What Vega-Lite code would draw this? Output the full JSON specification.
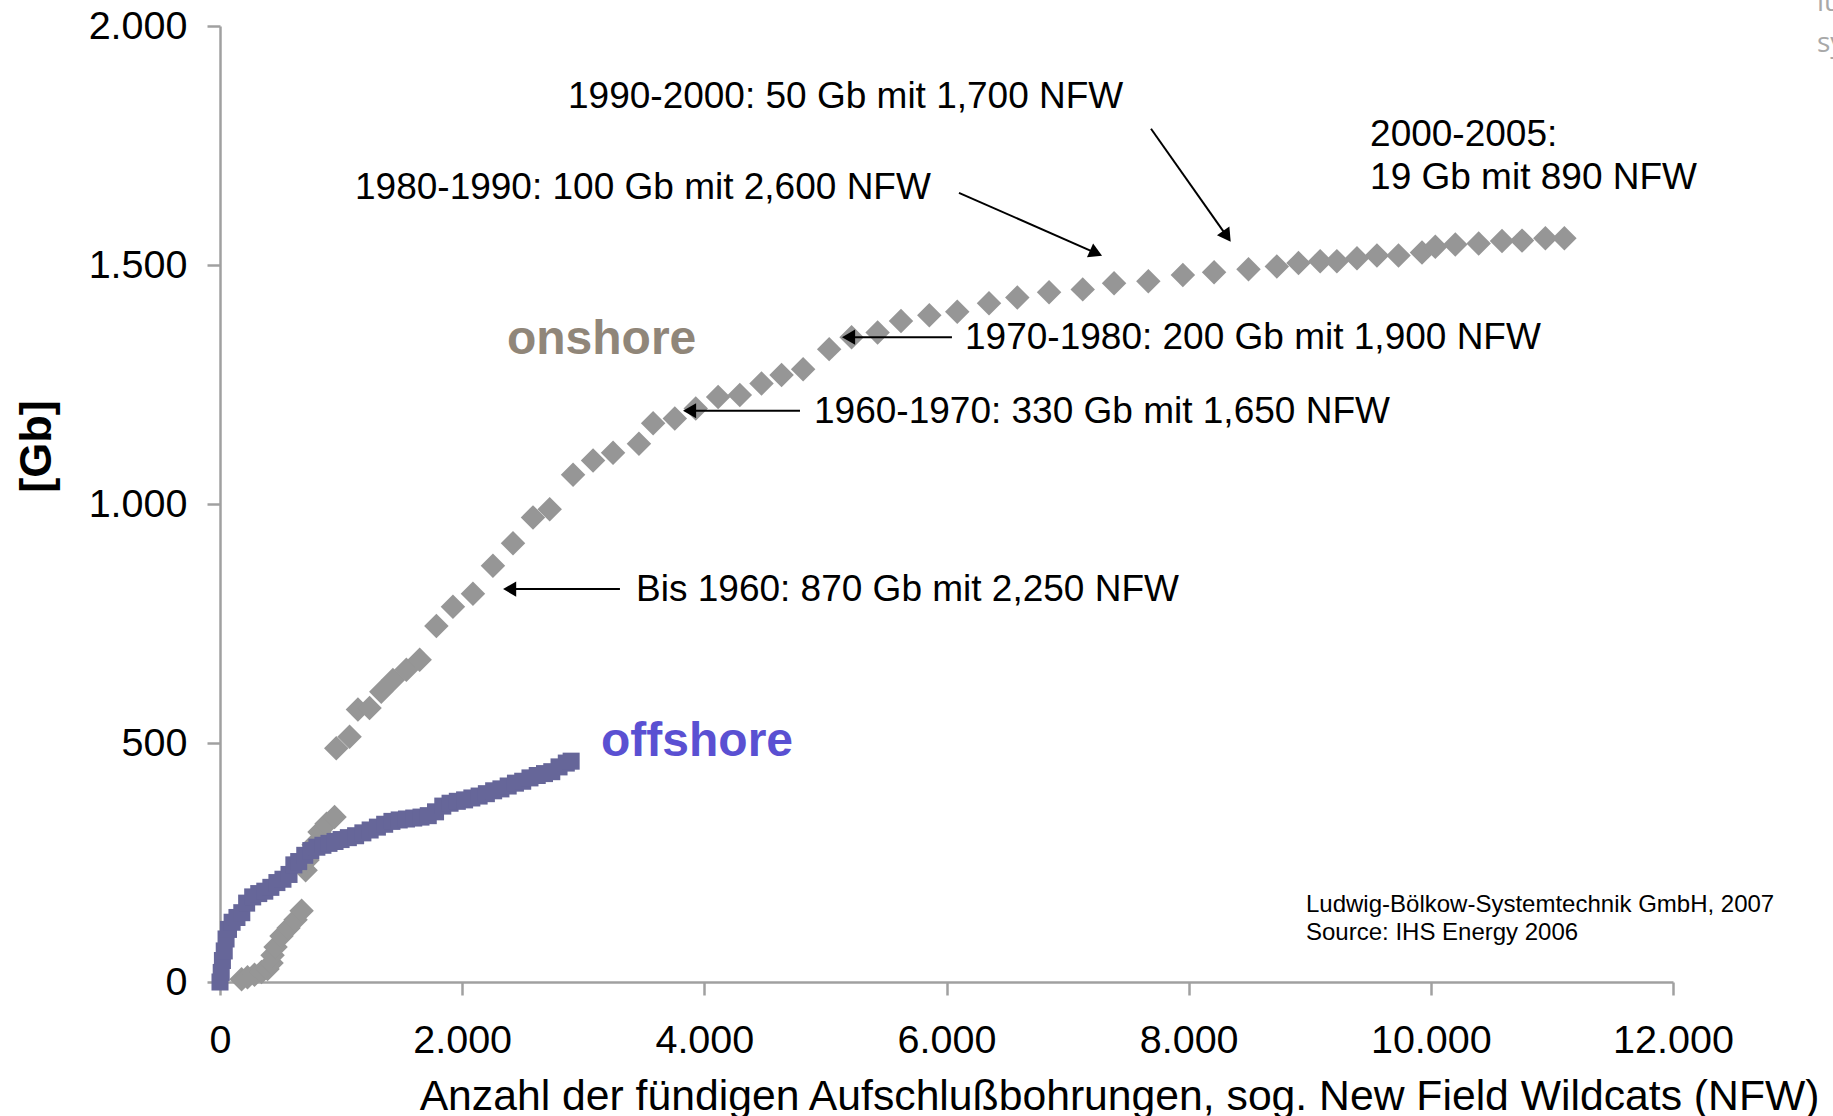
{
  "$schema": "https://vega.github.io/schema/vega-lite/v6.json",
  "width": 1453,
  "height": 956,
  "autosize": {"type": "none"},
  "padding": {"left": 220, "top": 26, "right": 160, "bottom": 134},
  "background": "white",
  "config": {
    "view": {"stroke": null},
    "font": "Liberation Sans",
    "locale": {"number": {"decimal": ",", "thousands": ".", "grouping": [3], "currency": ["", " €"]}},
    "axis": {
      "domainColor": "#a0a0a0", "domainWidth": 2.5,
      "tickColor": "#a0a0a0", "tickWidth": 2.5, "tickSize": 13,
      "grid": false,
      "labelFont": "Liberation Sans", "labelFontSize": 39.5, "labelColor": "#000000",
      "titleFont": "Liberation Sans", "titleColor": "#000000"
    }
  },
  "datasets": {
    "onshore": [
      {"nfw": 178, "gb": 6}, {"nfw": 227, "gb": 10}, {"nfw": 285, "gb": 15}, {"nfw": 343, "gb": 21},
      {"nfw": 393, "gb": 27}, {"nfw": 426, "gb": 40}, {"nfw": 434, "gb": 56}, {"nfw": 459, "gb": 73},
      {"nfw": 508, "gb": 96}, {"nfw": 566, "gb": 113}, {"nfw": 624, "gb": 130}, {"nfw": 674, "gb": 149},
      {"nfw": 707, "gb": 234}, {"nfw": 723, "gb": 255}, {"nfw": 773, "gb": 287}, {"nfw": 822, "gb": 314},
      {"nfw": 880, "gb": 331}, {"nfw": 946, "gb": 345}, {"nfw": 960, "gb": 489}, {"nfw": 1070, "gb": 513},
      {"nfw": 1139, "gb": 570}, {"nfw": 1235, "gb": 573}, {"nfw": 1332, "gb": 607}, {"nfw": 1428, "gb": 632},
      {"nfw": 1539, "gb": 653}, {"nfw": 1649, "gb": 674}, {"nfw": 1787, "gb": 745}, {"nfw": 1924, "gb": 785},
      {"nfw": 2089, "gb": 812}, {"nfw": 2254, "gb": 871}, {"nfw": 2420, "gb": 918}, {"nfw": 2585, "gb": 972},
      {"nfw": 2723, "gb": 989}, {"nfw": 2916, "gb": 1061}, {"nfw": 3081, "gb": 1091}, {"nfw": 3246, "gb": 1107},
      {"nfw": 3460, "gb": 1126}, {"nfw": 3577, "gb": 1169}, {"nfw": 3756, "gb": 1179}, {"nfw": 3929, "gb": 1200},
      {"nfw": 4114, "gb": 1224}, {"nfw": 4293, "gb": 1228}, {"nfw": 4472, "gb": 1252}, {"nfw": 4638, "gb": 1270},
      {"nfw": 4816, "gb": 1282}, {"nfw": 5031, "gb": 1324}, {"nfw": 5216, "gb": 1349}, {"nfw": 5431, "gb": 1359},
      {"nfw": 5624, "gb": 1383}, {"nfw": 5858, "gb": 1395}, {"nfw": 6089, "gb": 1402}, {"nfw": 6351, "gb": 1420},
      {"nfw": 6585, "gb": 1432}, {"nfw": 6847, "gb": 1443}, {"nfw": 7125, "gb": 1449}, {"nfw": 7384, "gb": 1462},
      {"nfw": 7667, "gb": 1466}, {"nfw": 7952, "gb": 1479}, {"nfw": 8210, "gb": 1485}, {"nfw": 8494, "gb": 1491},
      {"nfw": 8728, "gb": 1497}, {"nfw": 8907, "gb": 1504}, {"nfw": 9086, "gb": 1508}, {"nfw": 9224, "gb": 1508},
      {"nfw": 9390, "gb": 1514}, {"nfw": 9555, "gb": 1520}, {"nfw": 9733, "gb": 1520}, {"nfw": 9927, "gb": 1526},
      {"nfw": 10037, "gb": 1538}, {"nfw": 10202, "gb": 1543}, {"nfw": 10395, "gb": 1545}, {"nfw": 10588, "gb": 1550},
      {"nfw": 10753, "gb": 1551}, {"nfw": 10946, "gb": 1556}, {"nfw": 11103, "gb": 1556}
    ],
    "offshore": [
      {"nfw": 0, "gb": 0}, {"nfw": 10, "gb": 20}, {"nfw": 20, "gb": 45}, {"nfw": 35, "gb": 65},
      {"nfw": 50, "gb": 90}, {"nfw": 70, "gb": 110}, {"nfw": 100, "gb": 125}, {"nfw": 140, "gb": 135},
      {"nfw": 180, "gb": 145}, {"nfw": 220, "gb": 165}, {"nfw": 270, "gb": 178}, {"nfw": 320, "gb": 185},
      {"nfw": 370, "gb": 190}, {"nfw": 420, "gb": 198}, {"nfw": 470, "gb": 208}, {"nfw": 520, "gb": 215},
      {"nfw": 570, "gb": 225}, {"nfw": 610, "gb": 245}, {"nfw": 650, "gb": 252}, {"nfw": 700, "gb": 265},
      {"nfw": 750, "gb": 275}, {"nfw": 800, "gb": 282}, {"nfw": 850, "gb": 286}, {"nfw": 900, "gb": 290},
      {"nfw": 950, "gb": 294}, {"nfw": 1000, "gb": 298}, {"nfw": 1060, "gb": 302}, {"nfw": 1120, "gb": 306},
      {"nfw": 1180, "gb": 312}, {"nfw": 1240, "gb": 318}, {"nfw": 1300, "gb": 324}, {"nfw": 1360, "gb": 330},
      {"nfw": 1420, "gb": 336}, {"nfw": 1480, "gb": 339}, {"nfw": 1540, "gb": 341}, {"nfw": 1600, "gb": 343},
      {"nfw": 1660, "gb": 345}, {"nfw": 1720, "gb": 348}, {"nfw": 1780, "gb": 356}, {"nfw": 1840, "gb": 368},
      {"nfw": 1900, "gb": 374}, {"nfw": 1960, "gb": 378}, {"nfw": 2020, "gb": 381}, {"nfw": 2080, "gb": 385},
      {"nfw": 2140, "gb": 389}, {"nfw": 2200, "gb": 394}, {"nfw": 2260, "gb": 400}, {"nfw": 2320, "gb": 404},
      {"nfw": 2380, "gb": 410}, {"nfw": 2440, "gb": 416}, {"nfw": 2500, "gb": 420}, {"nfw": 2560, "gb": 427},
      {"nfw": 2620, "gb": 432}, {"nfw": 2680, "gb": 436}, {"nfw": 2740, "gb": 440}, {"nfw": 2800, "gb": 450},
      {"nfw": 2860, "gb": 458}, {"nfw": 2900, "gb": 462}
    ],
    "arrows": [
      {"nfw": 3303, "gb": 822, "nfw2": 2392, "gb2": 822},
      {"nfw": 4790, "gb": 1195, "nfw2": 3878, "gb2": 1195},
      {"nfw": 6045, "gb": 1349, "nfw2": 5191, "gb2": 1349},
      {"nfw": 6103, "gb": 1651, "nfw2": 7235, "gb2": 1525},
      {"nfw": 7689, "gb": 1785, "nfw2": 8316, "gb2": 1560}
    ],
    "headsLeft": [
      {"nfw": 2392, "gb": 822}, {"nfw": 3878, "gb": 1195}, {"nfw": 5191, "gb": 1349}
    ],
    "head1980": [{"nfw": 7235, "gb": 1525}],
    "head1990": [{"nfw": 8316, "gb": 1560}],
    "notes": [
      {"nfw": 2874, "gb": 1851, "label": "1990-2000: 50 Gb mit 1,700 NFW"},
      {"nfw": 1115, "gb": 1661, "label": "1980-1990: 100 Gb mit 2,600 NFW"},
      {"nfw": 9498, "gb": 1772, "label": "2000-2005:"},
      {"nfw": 9498, "gb": 1682, "label": "19 Gb mit 890 NFW"},
      {"nfw": 6153, "gb": 1347, "label": "1970-1980: 200 Gb mit 1,900 NFW"},
      {"nfw": 4906, "gb": 1192, "label": "1960-1970: 330 Gb mit 1,650 NFW"},
      {"nfw": 3436, "gb": 820, "label": "Bis 1960: 870 Gb mit 2,250 NFW"}
    ],
    "onshoreLabel": [{"nfw": 2370, "gb": 1343, "label": "onshore"}],
    "offshoreLabel": [{"nfw": 3147, "gb": 502, "label": "offshore"}],
    "credits": [
      {"nfw": 8969, "gb": 161, "label": "Ludwig-Bölkow-Systemtechnik GmbH, 2007"},
      {"nfw": 8969, "gb": 102, "label": "Source: IHS Energy 2006"}
    ],
    "logo": [
      {"nfw": 13189, "gb": 2048, "label": "lu"},
      {"nfw": 13189, "gb": 1962, "label": "sy"}
    ]
  },
  "encoding": {
    "x": {
      "field": "nfw", "type": "quantitative",
      "scale": {"domain": [0, 12000], "nice": false, "zero": false},
      "axis": {
        "values": [0, 2000, 4000, 6000, 8000, 10000, 12000],
        "format": ",d", "labelFlush": false, "labelOverlap": false, "labelPadding": 26,
        "title": "Anzahl der fündigen Aufschlußbohrungen, sog. New Field Wildcats (NFW)",
        "titleFontSize": 42.7, "titleFontWeight": "normal",
        "titleAnchor": "end", "titleAlign": "right", "titleX": 1599, "titleY": 127, "titleBaseline": "alphabetic"
      }
    },
    "y": {
      "field": "gb", "type": "quantitative",
      "scale": {"domain": [0, 2000], "nice": false, "zero": false},
      "axis": {
        "values": [0, 500, 1000, 1500, 2000],
        "format": ",d", "labelOverlap": false, "labelPadding": 20,
        "title": "[Gb]", "titleFontSize": 45, "titleFontWeight": "bold",
        "titleAngle": 270, "titleX": -184, "titleY": 420, "titleAlign": "center", "titleBaseline": "middle"
      }
    }
  },
  "layer": [
    {"data": {"name": "onshore"}, "mark": {"type": "point", "shape": "diamond", "filled": true, "size": 600, "color": "#969696", "opacity": 1}},
    {"data": {"name": "offshore"}, "mark": {"type": "point", "shape": "square", "filled": true, "size": 290, "color": "#666699", "opacity": 1}},
    {"data": {"name": "arrows"}, "mark": {"type": "rule", "color": "#000000", "strokeWidth": 2},
     "encoding": {"x2": {"field": "nfw2"}, "y2": {"field": "gb2"}}},
    {"data": {"name": "headsLeft"}, "mark": {"type": "point", "shape": "triangle-left", "filled": true, "size": 230, "color": "#000000", "opacity": 1}},
    {"data": {"name": "head1980"}, "mark": {"type": "point", "shape": "triangle-up", "angle": 114, "filled": true, "size": 230, "color": "#000000", "opacity": 1}},
    {"data": {"name": "head1990"}, "mark": {"type": "point", "shape": "triangle-up", "angle": 145, "filled": true, "size": 230, "color": "#000000", "opacity": 1}},
    {"data": {"name": "notes"}, "mark": {"type": "text", "align": "left", "baseline": "middle", "fontSize": 37, "font": "Liberation Sans", "color": "#000000"},
     "encoding": {"text": {"field": "label"}}},
    {"data": {"name": "onshoreLabel"}, "mark": {"type": "text", "align": "left", "baseline": "middle", "fontSize": 48, "fontWeight": "bold", "font": "Liberation Sans", "color": "#908679"},
     "encoding": {"text": {"field": "label"}}},
    {"data": {"name": "offshoreLabel"}, "mark": {"type": "text", "align": "left", "baseline": "middle", "fontSize": 48, "fontWeight": "bold", "font": "Liberation Sans", "color": "#5a50d2"},
     "encoding": {"text": {"field": "label"}}},
    {"data": {"name": "credits"}, "mark": {"type": "text", "align": "left", "baseline": "middle", "fontSize": 24, "font": "Liberation Sans", "color": "#000000"},
     "encoding": {"text": {"field": "label"}}},
    {"data": {"name": "logo"}, "mark": {"type": "text", "align": "left", "baseline": "middle", "fontSize": 28, "font": "Open Sans", "color": "#a8a8a8"},
     "encoding": {"text": {"field": "label"}}}
  ]
}
